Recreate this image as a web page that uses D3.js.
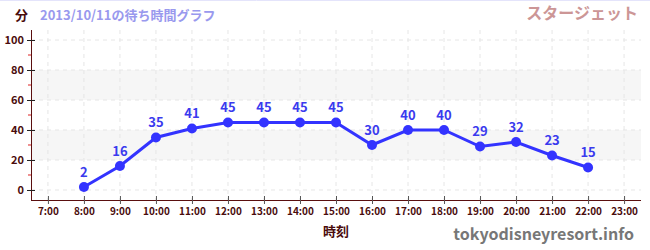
<!DOCTYPE html>
<html>
<head>
<meta charset="utf-8">
<script src="https://cdn.jsdelivr.net/npm/d3@7"></script>
<style>
body { margin: 0; background: #fff; }
text { font-family: "Noto Sans CJK JP", "Noto Sans", sans-serif; font-weight: bold; }
</style>
</head>
<body>
<div id="chartDiv"></div>
<script>
var hours = [8, 9, 10, 11, 12, 13, 14, 15, 16, 17, 18, 19, 20, 21, 22];
var waits = [2, 16, 35, 41, 45, 45, 45, 45, 30, 40, 40, 29, 32, 23, 15];
var hourTicks = [7, 8, 9, 10, 11, 12, 13, 14, 15, 16, 17, 18, 19, 20, 21, 22, 23];
var yTicks = [0, 20, 40, 60, 80, 100];
var yMinor = [10, 30, 50, 70, 90];
var bands = [[20, 40], [60, 80]];

var width = 650, height = 250;

var svg = d3.select("#chartDiv").append("svg")
    .attr("width", width)
    .attr("height", height);

var x = d3.scaleLinear().domain([6.53, 23.47]).range([31, 641]);
var y = d3.scaleLinear().domain([-6.67, 106.67]).range([200, 30]);

// top line
svg.append("line")
    .attr("x1", 0).attr("x2", width)
    .attr("y1", 0.5).attr("y2", 0.5)
    .style("stroke", "#e4e4fb");

// bands
svg.selectAll(".band")
    .data(bands)
    .enter().append("rect")
    .attr("x", x.range()[0])
    .attr("width", x.range()[1] - x.range()[0])
    .attr("y", function (d) { return y(d[1]); })
    .attr("height", function (d) { return y(d[0]) - y(d[1]); })
    .style("fill", "#f6f6f6");

// grid
svg.selectAll(".hgrid")
    .data(yTicks)
    .enter().append("line")
    .attr("x1", x.range()[0]).attr("x2", x.range()[1])
    .attr("y1", function (d) { return y(d); })
    .attr("y2", function (d) { return y(d); })
    .style("stroke", "#e6e6e6")
    .style("stroke-dasharray", "4,4");

svg.selectAll(".vgrid")
    .data(hourTicks)
    .enter().append("line")
    .attr("x1", function (d) { return x(d); })
    .attr("x2", function (d) { return x(d); })
    .attr("y1", y.range()[1]).attr("y2", y.range()[0])
    .style("stroke", "#e6e6e6")
    .style("stroke-dasharray", "4,4");

// y axis
var yAxis = svg.append("g")
    .attr("transform", "translate(" + x.range()[0] + ",0)")
    .call(d3.axisLeft(y).tickValues(yTicks).tickSize(4).tickPadding(3));
yAxis.select(".domain").style("stroke", "#5a0f0f").attr("d", "M0.5," + y.range()[1] + "V" + y.range()[0]);
yAxis.selectAll(".tick line").attr("x1", -4).attr("x2", 4).style("stroke", "#222");
yAxis.selectAll(".tick text").style("fill", "#4a0c0c").style("font-size", "11px");

svg.append("g")
    .selectAll("line")
    .data(yMinor)
    .enter().append("line")
    .attr("x1", x.range()[0] - 3).attr("x2", x.range()[0])
    .attr("y1", function (d) { return y(d); })
    .attr("y2", function (d) { return y(d); })
    .style("stroke", "#dd2222");

// x axis
var xAxis = svg.append("g")
    .attr("transform", "translate(0," + y.range()[0] + ")")
    .call(d3.axisBottom(x).tickValues(hourTicks).tickSize(4).tickPadding(4)
        .tickFormat(function (d) { return d + ":00"; }));
xAxis.select(".domain").style("stroke", "#5a0f0f").attr("d", "M" + x.range()[0] + ",0.5H" + x.range()[1]);
xAxis.selectAll(".tick line").attr("y1", -4).attr("y2", 4).style("stroke", "#555");
xAxis.selectAll(".tick text").style("fill", "#4a0c0c").style("font-size", "10px");

// line
var line = d3.line()
    .x(function (d, i) { return x(hours[i]); })
    .y(function (d) { return y(d); });

svg.append("path")
    .datum(waits)
    .attr("d", line)
    .style("fill", "none")
    .style("stroke", "#3333ff")
    .style("stroke-width", 3);

svg.selectAll(".dot")
    .data(waits)
    .enter().append("circle")
    .attr("cx", function (d, i) { return x(hours[i]); })
    .attr("cy", function (d) { return y(d); })
    .attr("r", 5)
    .style("fill", "#3333ff");

svg.selectAll(".val")
    .data(waits)
    .enter().append("text")
    .attr("x", function (d, i) { return x(hours[i]); })
    .attr("y", function (d) { return y(d) - 10; })
    .attr("text-anchor", "middle")
    .style("fill", "#3a3aee")
    .style("font-size", "13px")
    .text(function (d) { return d; });

// titles
svg.append("text").attr("x", 15).attr("y", 20)
    .style("fill", "#4a0c0c").style("font-size", "13px").text("分");
svg.append("text").attr("x", 40).attr("y", 20)
    .style("fill", "#9999ee").style("font-size", "13px").text("2013/10/11の待ち時間グラフ");
svg.append("text").attr("x", 638).attr("y", 19).attr("text-anchor", "end")
    .style("fill", "#cc9696").style("font-size", "16px").text("スタージェット");
svg.append("text").attr("x", 336).attr("y", 236).attr("text-anchor", "middle")
    .style("fill", "#4a0c0c").style("font-size", "13px").text("時刻");
svg.append("text").attr("x", 634).attr("y", 240).attr("text-anchor", "end")
    .style("fill", "#777").style("font-size", "16px").text("tokyodisneyresort.info");
</script>
</body>
</html>
